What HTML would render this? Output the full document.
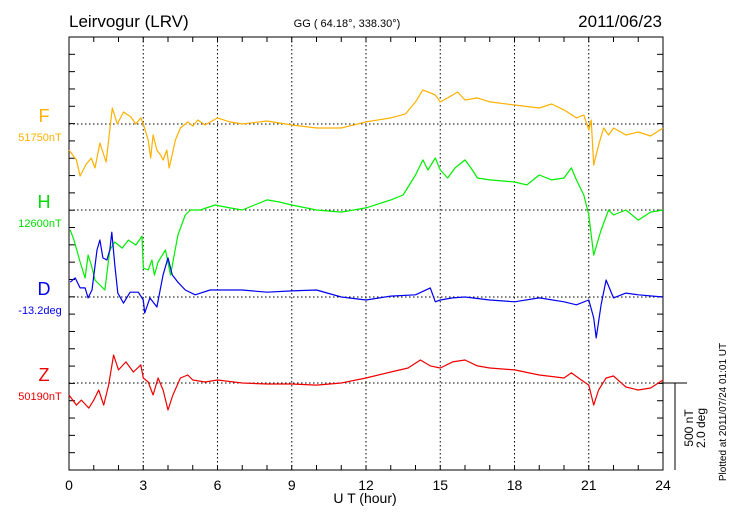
<!DOCTYPE html>
<html><head><meta charset="utf-8"><style>
body{margin:0;background:#fff}
svg{display:block;font-family:"Liberation Sans",sans-serif}
</style></head><body>
<svg id="c" width="730" height="520">
<text x="69" y="27" font-size="17">Leirvogur (LRV)</text>
<text x="347" y="27" font-size="11" text-anchor="middle">GG ( 64.18°, 338.30°)</text>
<text x="662" y="27" font-size="17" text-anchor="end">2011/06/23</text>
<text x="365" y="503" font-size="14" text-anchor="middle">U T (hour)</text>
<text transform="translate(726,412) rotate(-90)" font-size="10" text-anchor="middle">Plotted at 2011/07/24 01:01  UT</text>
<text transform="translate(693,428) rotate(-90)" font-size="12" text-anchor="middle">500 nT</text>
<text transform="translate(705,428) rotate(-90)" font-size="12" text-anchor="middle">2.0 deg</text>
<g id="g"></g>
</svg>
<script>
const hours=[0,3,6,9,12,15,18,21,24];
const fT=[0,0.3,0.45,0.7,0.9,1.05,1.25,1.5,1.75,1.95,2.2,2.5,2.7,2.9,3.0,3.2,3.3,3.4,3.55,3.7,3.8,3.95,4.05,4.3,4.5,4.7,4.8,5.0,5.2,5.5,6,6.5,7,8,9,10,11,12,13,13.6,14,14.3,14.8,15,15.3,15.7,16,16.5,17,18,19,19.5,20,20.5,20.8,21.0,21.1,21.2,21.4,21.6,21.8,22,22.5,23,23.5,24];
const fV=[-150,-207,-299,-230,-196,-253,-109,-219,92,0,69,40,0,35,0,-92,-196,-63,-150,-178,-207,-150,-253,-92,-23,0,12,-12,23,-6,35,12,0,17,-6,-23,-23,12,35,58,127,196,167,127,150,184,138,150,127,109,92,115,81,35,52,-35,23,-236,-121,-23,-63,-23,-63,-46,-69,-23];
const hT=[0.05,0.2,0.45,0.65,0.77,0.9,1.05,1.25,1.45,1.65,1.85,2.15,2.4,2.7,2.95,3.0,3.2,3.35,3.45,3.6,3.9,4.1,4.4,4.7,4.9,5.3,5.9,6.5,7,7.5,8,8.5,9,10,11,12,13,13.5,14,14.3,14.5,14.8,15,15.3,15.6,16,16.3,16.5,17,18,18.5,19,19.5,20,20.3,20.5,20.8,21,21.2,21.5,21.8,22,22.5,23,23.5,24];
const hV=[-115,-173,-299,-391,-259,-316,-403,-431,-460,-230,-184,-219,-173,-201,-150,-334,-345,-288,-374,-299,-230,-374,-144,-29,0,0,29,12,0,29,58,46,29,0,-12,12,58,86,201,288,230,299,230,184,242,288,230,184,173,161,144,201,173,184,242,173,86,-29,-259,-115,0,-29,0,-58,-12,0];
const dT=[0.05,0.25,0.45,0.65,0.77,0.93,1.13,1.25,1.37,1.53,1.65,1.73,1.85,1.97,2.2,2.47,2.8,3.0,3.06,3.27,3.55,3.8,4.0,4.17,4.4,4.7,5.1,5.7,7,8,9,10,11,12,13,14,14.6,14.8,15,15.5,16,17,18,19,20,20.5,21,21.2,21.3,21.5,21.7,22,22.5,23,24];
const dV=[0.34,0.44,0.21,0.21,-0.02,0.16,1.08,1.31,0.9,0.85,1.08,1.49,0.74,0.09,-0.14,0.11,0.11,-0.07,-0.37,-0.02,-0.23,0.51,0.9,0.51,0.34,0.16,0.05,0.16,0.16,0.11,0.14,0.16,0,-0.07,0.02,0.05,0.21,-0.11,-0.07,-0.02,0,-0.07,-0.11,-0.02,-0.11,-0.18,-0.07,-0.48,-0.94,-0.18,0.39,-0.02,0.09,0.05,0];
const zT=[0,0.3,0.5,0.8,1.0,1.2,1.4,1.6,1.8,2.0,2.3,2.6,2.9,3.0,3.2,3.4,3.6,3.8,4.0,4.2,4.5,4.8,5.0,5.5,6,7,8,9,10,11,12,13,13.7,14.2,14.6,15,15.5,16,16.5,17,18,19,20,20.3,20.7,21,21.2,21.4,21.7,22,22.5,23,23.5,24];
const zV=[-69,-127,-98,-144,-98,-40,-127,-12,161,75,121,63,104,29,6,-69,29,-40,-155,-69,29,46,17,6,17,0,-6,-6,-12,0,29,63,86,132,98,86,121,132,98,86,75,46,29,58,17,-12,-127,-40,29,40,-23,-40,-29,17];
const L=69,R=663,T=37,B=470,NS="http://www.w3.org/2000/svg";
const g=document.getElementById('g');
const x=h=>L+(R-L)*h/24;
const pxPerNT=87/500, pxPerDeg=87/2;
function mk(t,a){const e=document.createElementNS(NS,t);for(const k in a)e.setAttribute(k,a[k]);g.appendChild(e);return e;}
// grid
for(const h of hours){ if(h>0&&h<24){const l=mk('line',{x1:x(h),x2:x(h),y1:T,y2:B,stroke:'#000','stroke-dasharray':'1.5,2.5','stroke-width':1});

}
const t=mk('text',{x:x(h),y:490,'font-size':14,'text-anchor':'middle'});t.textContent=h;

}
const bases=[124,210,297,383];
for(const b of bases){const l=mk('line',{x1:L,x2:R,y1:b,y2:b,stroke:'#000','stroke-dasharray':'1.5,2.5'});

}
for(let i=0;i<=24;i++){mk('line',{x1:x(i),x2:x(i),y1:B,y2:B-5,stroke:'#000'});mk('line',{x1:x(i),x2:x(i),y1:T,y2:T+5,stroke:'#000'});}
for(let i=0;i<=25;i++){const y=T+(B-T)*i/25;mk('line',{x1:L,x2:L+6,y1:y,y2:y,stroke:'#000'});mk('line',{x1:R,x2:R-6,y1:y,y2:y,stroke:'#000'});}
const fr=mk('rect',{x:L,y:T,width:R-L,height:B-T,fill:'none',stroke:'#000','stroke-width':1});


mk('line',{x1:R,x2:687,y1:383,y2:383,stroke:'#000'});
const sb=mk('line',{x1:675,x2:675,y1:383,y2:470,stroke:'#000'});


function series(ts,vs,base,sc,col,name){const n=Math.min(ts.length,vs.length);let d='';
for(let i=0;i<n;i++)d+=(i?'L':'M')+x(ts[i]).toFixed(1)+','+(base-vs[i]*sc).toFixed(1);
const p=mk('path',{d:d,fill:'none',stroke:col,'stroke-width':1.2,'stroke-linejoin':'round'});

}
series(fT,fV,124,pxPerNT,'#ffb000','series-f');
series(hT,hV,210,pxPerNT,'#00ee00','series-h');
series(dT,dV,297,pxPerDeg,'#0000ee','series-d');
series(zT,zV,383,pxPerNT,'#ee0000','series-z');
const labs=[['F','51750nT','#ffb000',124],['H','12600nT','#00dd00',210],['D','-13.2deg','#0000ee',297],['Z','50190nT','#ee0000',383]];
for(const [a,b,c,y] of labs){const t1=mk('text',{x:44,y:y-2,'font-size':18,'text-anchor':'middle',fill:c});t1.textContent=a;


const t2=mk('text',{x:40,y:y+17,'font-size':11,'text-anchor':'middle',fill:c});t2.textContent=b;

}
</script>
</body></html>
